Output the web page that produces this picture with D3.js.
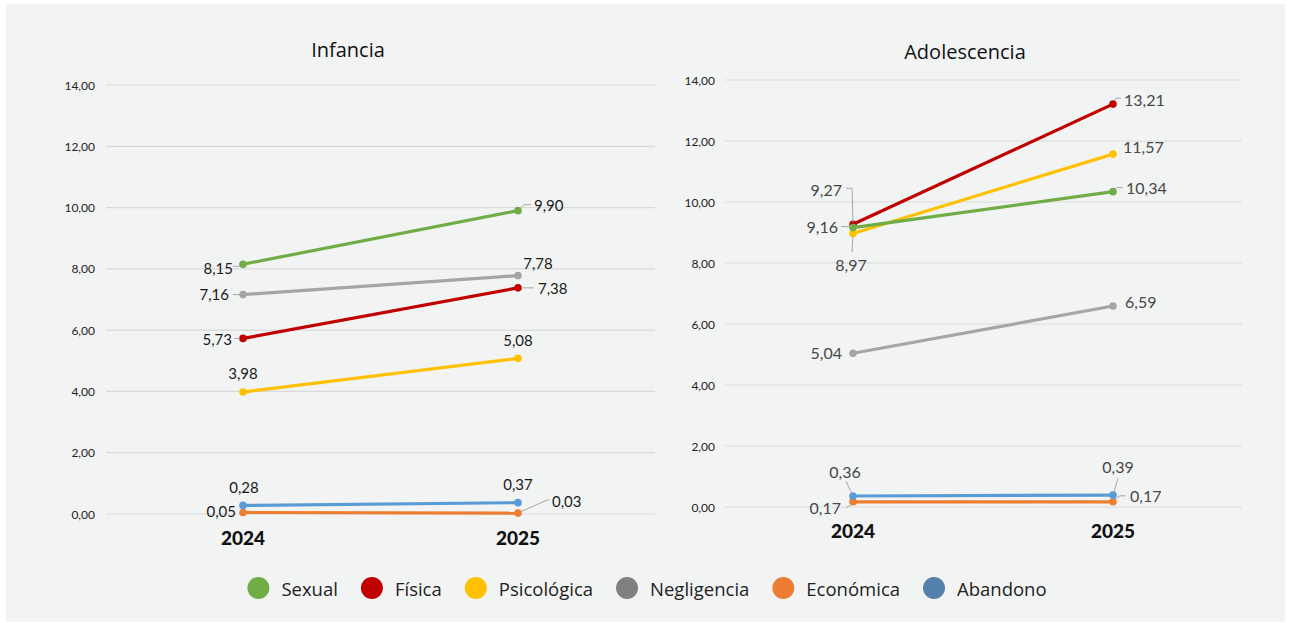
<!DOCTYPE html>
<html>
<head>
<meta charset="utf-8">
<title>Infancia / Adolescencia</title>
<style>
body { margin: 0; background: #fff; }
text { font-family: Lato, "Open Sans", sans-serif; }
.grid line { stroke: #d9d9d9; stroke-width: 1.2px; }
.tick-label { font-size: 12px; fill: #222; }
.year { font-size: 19px; font-weight: 900; fill: #111; }
.title { font-family: "Open Sans", sans-serif; font-size: 20px; fill: #111; }
.leader { fill: none; stroke: #a6a6a6; stroke-width: 1px; }
.legend text { font-family: "Open Sans", sans-serif; font-size: 18.5px; fill: #222; }
</style>
</head>
<body>
<script src="https://cdn.jsdelivr.net/npm/d3@7"></script>
<script>

// data
var years = ["2024", "2025"];
var categories = ["Sexual", "Física", "Psicológica", "Negligencia", "Económica", "Abandono"];
var infancia     = [[8.15, 9.90], [5.73, 7.38], [3.98, 5.08], [7.16, 7.78], [0.05, 0.03], [0.28, 0.37]];
var adolescencia = [[9.16, 10.34], [9.27, 13.21], [8.97, 11.57], [5.04, 6.59], [0.17, 0.17], [0.36, 0.39]];
var yTicks = [0, 2, 4, 6, 8, 10, 12, 14];

// styling
var lineColors   = ["#70ad47", "#c00000", "#ffc000", "#a5a5a5", "#ed7d31", "#5b9bd5"];
var legendColors = ["#70ad47", "#c00000", "#ffc000", "#7f7f7f", "#ed7d31", "#5480ad"];
var drawOrder = [2, 1, 0, 3, 4, 5];

var width = 1291, height = 623;

var svg = d3.select("body").append("svg")
    .attr("width", width)
    .attr("height", height);

svg.append("rect")
    .attr("x", 6).attr("y", 4)
    .attr("width", 1279).attr("height", 618)
    .attr("fill", "#f2f4f4");

// label placement per series/year: [dx, dy, anchor, leader points relative to the point]
var infLabels = [
  [[-10, 4, "end", [[-3, 2], [-10, 2]]], [16, -6, "start", [[3, -3], [6, -6], [13, -6]]]],
  [[-11, 1, "end", [[-3, 0], [-9, 0]]], [20, 0, "start", [[3, 0], [16, 0]]]],
  [[0, -19, "middle", null], [0, -18, "middle", null]],
  [[-14, -1, "end", [[-3, 0], [-10, 0]]], [20, -13, "middle", null]],
  [[-7, -1, "end", null], [34, -12, "start", [[2, -1], [29, -13], [31, -13]]]],
  [[1, -18, "middle", null], [0, -19, "middle", null]]
];
var adoLabels = [
  [[-15, -1, "end", [[-2, -1], [-12, -1]]], [13, -4, "start", [[1, -1], [4, -4], [10, -4]]]],
  [[-11, -35, "end", [[0, -2], [-1, -36], [-7, -36]]], [11, -5, "start", [[1, -3], [3, -6], [8, -6]]]],
  [[-2, 31, "middle", [[0, 3], [-1, 19]]], [10, -8, "start", null]],
  [[-11, -1, "end", null], [12, -5, "start", null]],
  [[-12, 6, "end", [[-2, 3], [-7, 6]]], [17, -6, "start", [[1, -2], [7, -6], [13, -6]]]],
  [[-8, -25, "middle", [[-1, -2], [-7, -15]]], [5, -29, "middle", [[1, -3], [5, -17]]]]
];

var panels = [
  { title: "Infancia", values: infancia, labels: infLabels,
    x0: 243, x1: 518, yTop: 85, yBottom: 514, gridLeft: 106, gridRight: 655,
    tickX: 95, titleX: 348, titleY: 49, labelSize: 15, labelColor: "#1a1a1a" },
  { title: "Adolescencia", values: adolescencia, labels: adoLabels,
    x0: 853, x1: 1113, yTop: 80, yBottom: 507, gridLeft: 725, gridRight: 1242,
    tickX: 715, titleX: 965, titleY: 51, labelSize: 16, labelColor: "#474747" }
];

var fmt = function(v) { return d3.format(".2f")(v).replace(".", ","); };

panels.forEach(function(p) {
  var x = d3.scalePoint().domain(years).range([p.x0, p.x1]);
  var y = d3.scaleLinear().domain([0, 14]).range([p.yBottom, p.yTop]);
  var g = svg.append("g");

  g.append("text")
      .attr("class", "title")
      .attr("x", p.titleX).attr("y", p.titleY)
      .attr("text-anchor", "middle")
      .attr("dominant-baseline", "central")
      .text(p.title);

  var grid = g.append("g").attr("class", "grid");
  grid.selectAll("line").data(yTicks).enter().append("line")
      .attr("x1", p.gridLeft).attr("x2", p.gridRight)
      .attr("y1", function(d) { return y(d); })
      .attr("y2", function(d) { return y(d); });

  g.selectAll(".tick-label").data(yTicks).enter().append("text")
      .attr("class", "tick-label")
      .attr("x", p.tickX)
      .attr("y", function(d) { return y(d); })
      .attr("text-anchor", "end")
      .attr("dominant-baseline", "central")
      .text(fmt);

  g.selectAll(".year").data(years).enter().append("text")
      .attr("class", "year")
      .attr("x", function(d) { return x(d); })
      .attr("y", p.yBottom + 23)
      .attr("text-anchor", "middle")
      .attr("dominant-baseline", "central")
      .text(function(d) { return d; });

  var line = d3.line()
      .x(function(d, i) { return x(years[i]); })
      .y(function(d) { return y(d); });

  drawOrder.forEach(function(ci) {
    var vals = p.values[ci];
    g.append("path")
        .attr("d", line(vals))
        .attr("fill", "none")
        .attr("stroke", lineColors[ci])
        .attr("stroke-width", 3.2);
    g.selectAll(null).data(vals).enter().append("circle")
        .attr("cx", function(d, i) { return x(years[i]); })
        .attr("cy", function(d) { return y(d); })
        .attr("r", 3.8)
        .attr("fill", lineColors[ci]);
  });

  // data labels
  categories.forEach(function(c, ci) {
    p.values[ci].forEach(function(v, yi) {
      var px = x(years[yi]), py = y(v);
      var lab = p.labels[ci][yi];
      if (lab[3]) {
        g.append("polyline")
            .attr("class", "leader")
            .attr("points", lab[3].map(function(q) { return (px + q[0]) + "," + (py + q[1]); }).join(" "));
      }
      g.append("text")
          .attr("x", px + lab[0])
          .attr("y", py + lab[1])
          .attr("text-anchor", lab[2])
          .attr("dominant-baseline", "central")
          .attr("font-size", p.labelSize)
          .attr("fill", p.labelColor)
          .text(fmt(v));
    });
  });
});

// legend
var legend = svg.append("g").attr("class", "legend");
var lx = 0;
categories.forEach(function(c, i) {
  var item = legend.append("g").attr("transform", "translate(" + lx + ",0)");
  item.append("circle").attr("cx", 11).attr("cy", 0).attr("r", 11).attr("fill", legendColors[i]);
  var t = item.append("text")
      .attr("x", 34).attr("y", 0)
      .attr("dominant-baseline", "central")
      .text(c);
  lx += 34 + t.node().getComputedTextLength() + 23;
});
var legendWidth = lx - 23;
legend.attr("transform", "translate(" + (647 - legendWidth / 2) + ",588)");

</script>
</body>
</html>
